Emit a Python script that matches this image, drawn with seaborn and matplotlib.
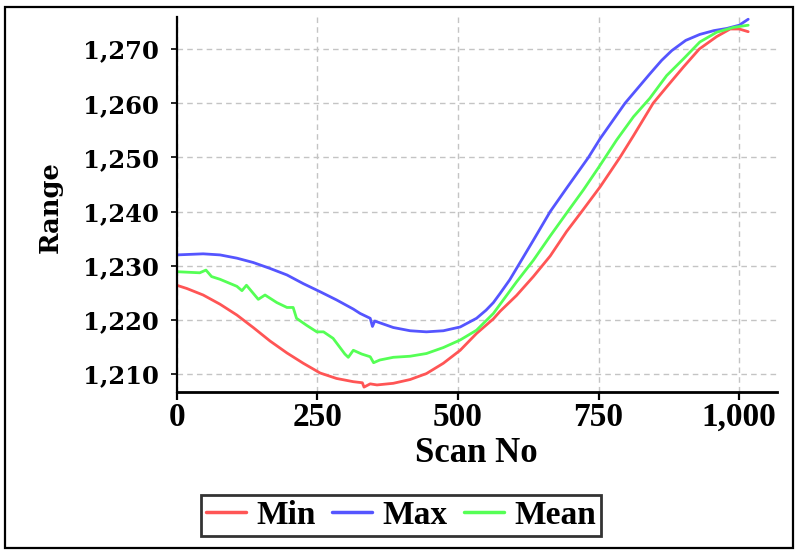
import numpy as np
import pandas as pd
import matplotlib
matplotlib.use('Agg')
import matplotlib.pyplot as plt
from matplotlib.patches import Rectangle
from matplotlib.ticker import FuncFormatter
import seaborn as sns

# data
scan_min = [0, 18, 47, 77, 107, 136, 166, 196, 225, 255, 284, 314, 330, 333, 344, 356,
            385, 415, 444, 474, 504, 533, 563, 575, 604, 634, 664, 693, 720, 753, 788,
            812, 847, 871, 901, 929, 960, 984, 1000, 1016]
range_min = [1226.4, 1225.8, 1224.6, 1222.9, 1220.9, 1218.6, 1216.1, 1213.9, 1212.0, 1210.2,
             1209.2, 1208.6, 1208.4, 1207.6, 1208.2, 1208.0, 1208.3, 1209.0, 1210.1, 1212.0,
             1214.4, 1217.5, 1220.2, 1221.6, 1224.5, 1228.0, 1231.8, 1236.3, 1240.0, 1244.6,
             1250.0, 1254.0, 1260.0, 1263.0, 1266.7, 1270.0, 1272.3, 1273.7, 1273.7, 1273.2]

scan_max = [0, 47, 77, 107, 136, 166, 196, 225, 255, 284, 314, 326, 344, 348, 352, 385,
            415, 444, 474, 504, 533, 550, 563, 575, 592, 607, 634, 664, 693, 732, 753, 797,
            841, 862, 880, 905, 930, 955, 978, 1000, 1016]
range_max = [1232.0, 1232.2, 1232.0, 1231.4, 1230.6, 1229.5, 1228.3, 1226.7, 1225.2, 1223.7,
             1222.0, 1221.2, 1220.3, 1218.8, 1219.8, 1218.6, 1218.0, 1217.8, 1218.0, 1218.7,
             1220.3, 1221.8, 1223.2, 1224.9, 1227.4, 1230.0, 1234.7, 1240.0, 1244.3, 1250.0,
             1253.5, 1260.0, 1265.4, 1267.9, 1269.7, 1271.6, 1272.7, 1273.4, 1273.8, 1274.4,
             1275.5]

scan_mean = [0, 41, 52, 62, 77, 107, 116, 124, 145, 157, 178, 196, 207, 213, 231, 249, 261,
             278, 299, 305, 314, 329, 344, 350, 361, 385, 415, 444, 474, 504, 533, 563, 575,
             604, 634, 664, 693, 723, 753, 782, 812, 841, 871, 901, 930, 960, 990, 1016]
range_mean = [1228.9, 1228.7, 1229.2, 1228.0, 1227.5, 1226.2, 1225.4, 1226.4, 1223.8, 1224.6,
              1223.2, 1222.3, 1222.3, 1220.3, 1219.0, 1217.8, 1217.8, 1216.6, 1213.7, 1213.1,
              1214.4, 1213.7, 1213.2, 1212.1, 1212.6, 1213.1, 1213.3, 1213.8, 1214.9, 1216.3,
              1218.1, 1221.2, 1222.9, 1227.0, 1231.0, 1235.5, 1239.7, 1244.0, 1248.6, 1253.2,
              1257.5, 1260.9, 1265.1, 1268.2, 1271.3, 1273.1, 1274.0, 1274.4]

series_names = ['Min', 'Max', 'Mean']
series_colors = {'Min': '#ff5555', 'Max': '#5555ff', 'Mean': '#55ff55'}
x_ticks = [0, 250, 500, 750, 1000]
y_ticks = [1210, 1220, 1230, 1240, 1250, 1260, 1270]

df = pd.concat([
    pd.DataFrame({'scan': scan_min, 'range': range_min, 'series': 'Min'}),
    pd.DataFrame({'scan': scan_max, 'range': range_max, 'series': 'Max'}),
    pd.DataFrame({'scan': scan_mean, 'range': range_mean, 'series': 'Mean'}),
], ignore_index=True)

sns.set_style('white')
plt.rcParams['font.family'] = ['Liberation Serif', 'DejaVu Serif']
plt.rcParams['text.color'] = 'black'
plt.rcParams['axes.labelcolor'] = 'black'
plt.rcParams['xtick.color'] = 'black'
plt.rcParams['ytick.color'] = 'black'

fig = plt.figure(figsize=(7.96, 5.51), dpi=100)
ax = fig.add_axes([0.222, 0.2886, 0.754, 0.6814])

sns.lineplot(data=df, x='scan', y='range', hue='series', hue_order=series_names,
             palette=series_colors, estimator=None, sort=False, linewidth=2.0, ax=ax)

ax.set_xlim(0, 1067)
ax.set_ylim(1206.7, 1276.0)
ax.set_xticks(x_ticks)
ax.set_yticks(y_ticks)
fmt = FuncFormatter(lambda v, p: f'{int(v):,}')
ax.xaxis.set_major_formatter(fmt)
ax.yaxis.set_major_formatter(fmt)

ax.grid(True, color='#c4c4c4', linestyle=(0, (4, 3)), linewidth=1.0)
for s in ['top', 'right']:
    ax.spines[s].set_visible(False)
ax.spines['bottom'].set_color('black')
ax.spines['bottom'].set_linewidth(2.0)
ax.spines['left'].set_color('black')
ax.spines['left'].set_linewidth(1.6)
ax.spines['left'].set_linestyle((0, (3, 1)))

ax.tick_params(axis='x', direction='out', length=6, width=1.6, colors='black', pad=1,
               bottom=True)
ax.tick_params(axis='y', direction='out', length=4, width=1.2, colors='black', pad=9,
               left=True)
for lab in ax.get_xticklabels():
    lab.set_fontfamily('Liberation Serif')
    lab.set_fontweight('bold')
    lab.set_fontsize(24)
for lab in ax.get_yticklabels():
    lab.set_fontfamily('DejaVu Serif')
    lab.set_fontweight('bold')
    lab.set_fontsize(17.5)

ax.set_xlabel('Scan No', fontfamily='Liberation Serif', fontweight='bold', fontsize=25,
              color='black')
ax.set_ylabel('Range', fontfamily='DejaVu Serif', fontweight='bold', fontsize=18.5,
              color='black')
ax.xaxis.label.set_va('center')
ax.yaxis.label.set_va('center')
ax.xaxis.set_label_coords(0.5, -0.163)
ax.yaxis.set_label_coords(-0.211, 0.493)

sns.move_legend(ax, 'center', bbox_to_anchor=(401 / 796, 1 - 515 / 551),
                bbox_transform=fig.transFigure, ncol=3, title=None, frameon=True,
                fancybox=False, prop={'family': 'Liberation Serif', 'weight': 'bold', 'size': 24},
                handlelength=1.2, handletextpad=0.3, columnspacing=0.5, borderpad=0.15,
                labelcolor='black')
leg = ax.get_legend()
leg.get_frame().set_edgecolor('black')
leg.get_frame().set_linewidth(2.0)
for h in leg.get_lines():
    h.set_linewidth(2.5)

fig.patches.append(Rectangle((0.006, 0.0054), 0.9902, 0.9819, transform=fig.transFigure,
                             fill=False, edgecolor='black', linewidth=1.6))

fig.savefig('out.png', dpi=100)
